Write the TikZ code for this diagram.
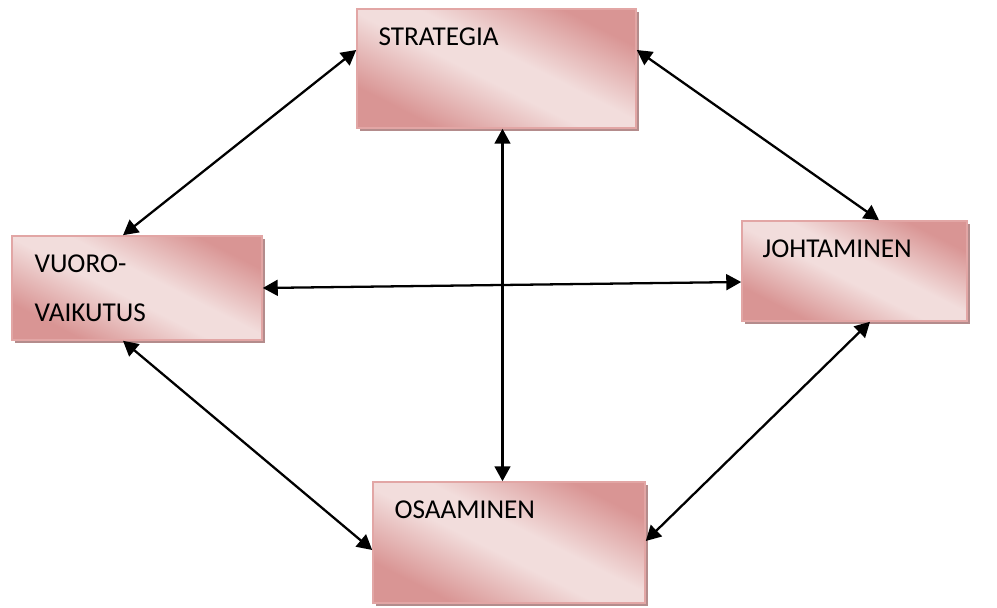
\documentclass[tikz,border=0pt]{standalone}
\usepackage{fontspec}
\setmainfont{Carlito}
\usetikzlibrary{arrows.meta,shadows}

\definecolor{boxdark}{RGB}{217,149,148}
\definecolor{boxlight}{RGB}{242,221,220}
\definecolor{boxedge}{RGB}{226,166,165}
\definecolor{boxshadow}{RGB}{180,140,140}

\pgfdeclareverticalshading{boxshade}{100bp}{color(0bp)=(boxdark); color(27bp)=(boxdark); color(46bp)=(boxlight); color(55bp)=(boxlight); color(74bp)=(boxdark); color(100bp)=(boxdark)}

\tikzset{
	box/.style={rectangle, draw=boxedge, line width=0.9pt, shading=boxshade, shading angle=-27,
		drop shadow={shadow xshift=1.7pt, shadow yshift=-1.7pt, fill=boxshadow, opacity=1}, inner sep=0pt},
	lbl/.style={anchor=base west, inner sep=0pt, font=\fontsize{15.5}{18}\selectfont},
	link/.style={{Triangle[length=8.5pt,width=9pt]}-{Triangle[length=8.5pt,width=9pt]}, line width=1.3pt}
}

\begin{document}
\begin{tikzpicture}
		\useasboundingbox (0,0) rectangle (19.94,-12.16);
		% boxes
		\node[box, minimum width=5.58cm, minimum height=2.38cm] (strategia) at (9.93,-1.37) {};
		\node[box, minimum width=5.0cm, minimum height=2.08cm] (vuoro) at (2.74,-5.76) {};
		\node[box, minimum width=4.5cm, minimum height=2.0cm] (johtaminen) at (17.09,-5.42) {};
		\node[box, minimum width=5.44cm, minimum height=2.42cm] (osaaminen) at (10.18,-10.85) {};
		% texts
		\node[lbl] (strategia-t) at ([xshift=0.44cm,yshift=-0.74cm]strategia.north west) {STRATEGIA};
		\node[lbl] (vuoro-t1) at ([xshift=0.46cm,yshift=-0.74cm]vuoro.north west) {VUORO-};
		\node[lbl] (vuoro-t2) at ([yshift=-0.98cm]vuoro-t1.base west) {VAIKUTUS};
		\node[lbl] (johtaminen-t) at ([xshift=0.42cm,yshift=-0.74cm]johtaminen.north west) {JOHTAMINEN};
		\node[lbl] (osaaminen-t) at ([xshift=0.44cm,yshift=-0.74cm]osaaminen.north west) {OSAAMINEN};
		% links
		\coordinate (mid) at ([xshift=0.12cm]strategia.south);
		\draw[link] ([yshift=0.37cm]strategia.west) -- ([xshift=-0.28cm]vuoro.north);
		\draw[link] ([yshift=0.37cm]strategia.east) -- ([xshift=0.49cm]johtaminen.north);
		\draw[link] (mid) -- (mid |- osaaminen.north);
		\draw[link] (vuoro.east) -- ([yshift=-0.22cm]johtaminen.west);
		\draw[link] ([xshift=-0.28cm]vuoro.south) -- ([yshift=-0.15cm]osaaminen.west);
		\draw[link] ([xshift=0.31cm]johtaminen.south) -- ([yshift=0.03cm]osaaminen.east);
	\end{tikzpicture}
\end{document}
